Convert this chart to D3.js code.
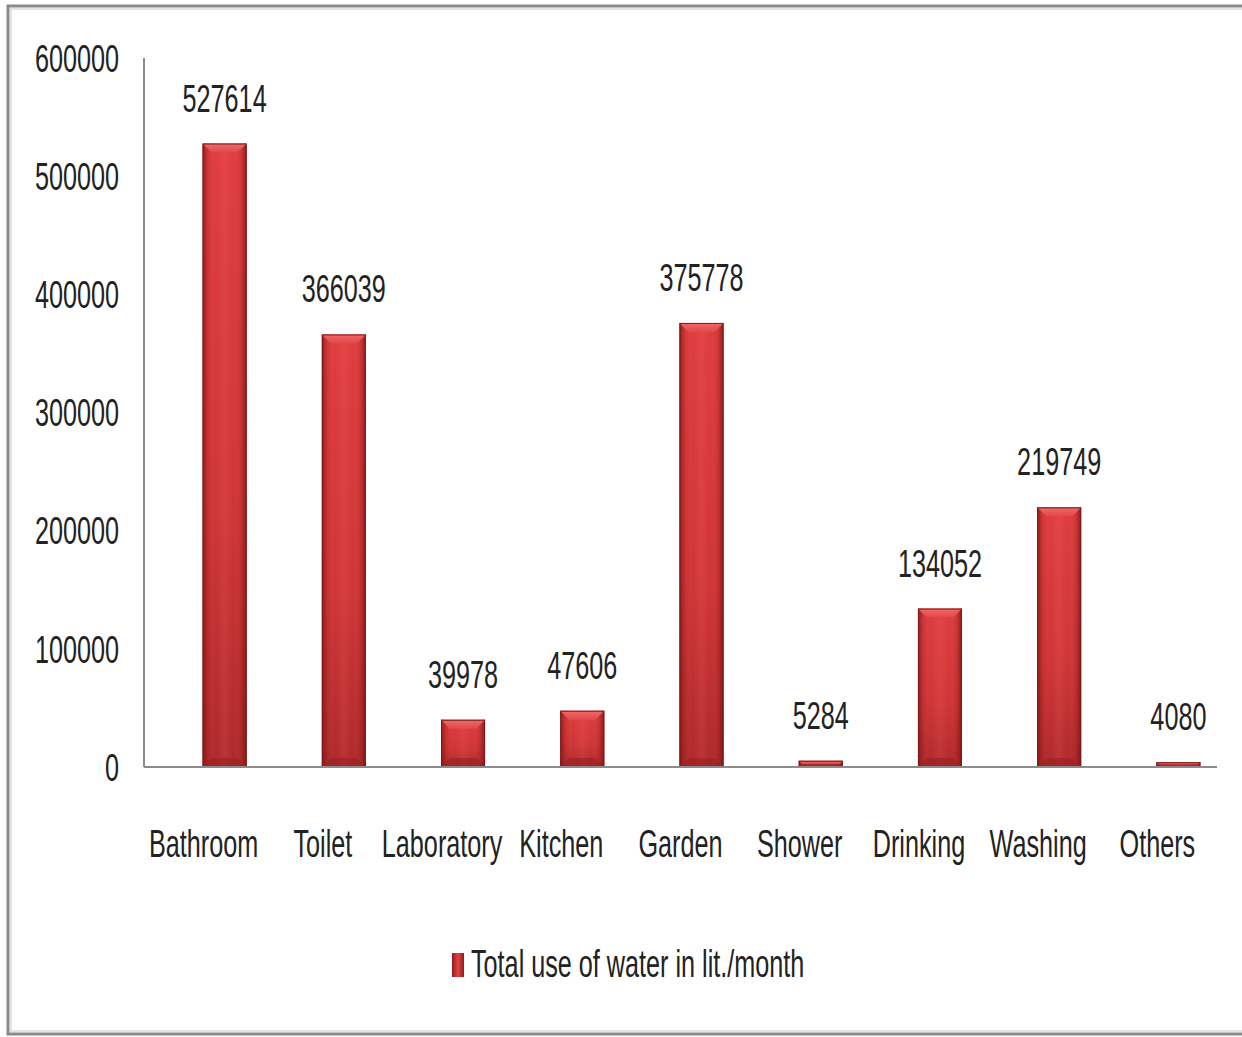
<!DOCTYPE html>
<html>
<head>
<meta charset="utf-8">
<script src="https://cdn.jsdelivr.net/npm/d3@7"></script>
<style>
  html, body { margin: 0; padding: 0; background: #ffffff; }
  svg { display: block; }
  text { font-family: "Liberation Sans", Arial, sans-serif; fill: #222222; }
</style>
</head>
<body>
<svg id="chart" width="1242" height="1037"></svg>
<script>
// Monthly water use by purpose (litres)
const categories = ["Bathroom", "Toilet", "Laboratory", "Kitchen", "Garden", "Shower", "Drinking", "Washing", "Others"];
const values = [527614, 366039, 39978, 47606, 375778, 5284, 134052, 219749, 4080];
const yTicks = [0, 100000, 200000, 300000, 400000, 500000, 600000];
const seriesName = "Total use of water in lit./month";

const svg = d3.select("#chart");
const W = 1242, H = 1037;
const plot = { left: 144, right: 1217, top: 58, bottom: 767 };
const sx = 0.84, sy = 1.27;   // labels are drawn tall and narrow
const fontSize = 30;
const squeeze = `scale(${sx},${sy})`;

// outer frame
svg.append("rect")
  .attr("x", 8).attr("y", 6).attr("width", W + 20).attr("height", 1028)
  .attr("fill", "none").attr("stroke", "#8a8a8a").attr("stroke-width", 3);
svg.append("rect")
  .attr("x", 11).attr("y", 9).attr("width", W + 20).attr("height", 1022)
  .attr("fill", "none").attr("stroke", "#e4e4e4").attr("stroke-width", 2);

const x = d3.scaleBand().domain(categories).range([plot.left, plot.right]).padding(0);
const y = d3.scaleLinear().domain([0, 600000]).range([plot.bottom, plot.top]);

// gradients for the bevelled bars
const defs = svg.append("defs");
const vg = defs.append("linearGradient").attr("id", "barV").attr("x1", 0).attr("y1", 0).attr("x2", 0).attr("y2", 1);
vg.append("stop").attr("offset", 0).attr("stop-color", "#df3d3e");
vg.append("stop").attr("offset", 0.6).attr("stop-color", "#cf3536");
vg.append("stop").attr("offset", 1).attr("stop-color", "#ae292b");
const hg = defs.append("linearGradient").attr("id", "barH").attr("x1", 0).attr("y1", 0).attr("x2", 1).attr("y2", 0);
[[0, "#6e1010", 0.7], [0.12, "#8a1a1a", 0.2], [0.3, "#ff8080", 0.0], [0.5, "#ff8a8a", 0.12], [0.7, "#ff8080", 0.0], [0.88, "#8a1a1a", 0.2], [1, "#6e1010", 0.75]]
  .forEach(([o, c, a]) => hg.append("stop").attr("offset", o).attr("stop-color", c).attr("stop-opacity", a));
const bevel = defs.append("linearGradient").attr("id", "bevel").attr("x1", 0).attr("y1", 0).attr("x2", 0).attr("y2", 1);
bevel.append("stop").attr("offset", 0).attr("stop-color", "#f26a6a");
bevel.append("stop").attr("offset", 1).attr("stop-color", "#e04848");

// y axis tick labels
svg.append("g").selectAll("text").data(yTicks).join("text")
  .attr("transform", d => `translate(119,${y(d)}) ${squeeze}`)
  .attr("text-anchor", "end")
  .attr("dy", "0.36em")
  .attr("font-size", fontSize)
  .text(d => d);

// y axis line
svg.append("line")
  .attr("x1", plot.left).attr("x2", plot.left).attr("y1", plot.top).attr("y2", plot.bottom)
  .attr("stroke", "#8c8c8c").attr("stroke-width", 2);

// bars, offset to the right of the category centre
const barW = 44, barShift = 21, bev = 9;
const bars = svg.append("g").selectAll("g").data(values).join("g")
  .attr("transform", (d, i) => `translate(${x(categories[i]) + x.bandwidth() / 2 + barShift - barW / 2},0)`);
bars.append("rect")
  .attr("x", 0).attr("width", barW)
  .attr("y", d => y(d)).attr("height", d => y(0) - y(d))
  .attr("fill", "url(#barV)");
bars.append("rect")
  .attr("x", 0).attr("width", barW)
  .attr("y", d => y(d)).attr("height", d => y(0) - y(d))
  .attr("fill", "url(#barH)");
bars.append("path")
  .attr("d", d => {
    const t = y(d), b = Math.min(bev, (y(0) - y(d)) / 2);
    return `M0,${t} L${barW},${t} L${barW - b},${t + b} L${b},${t + b} Z`;
  })
  .attr("fill", "url(#bevel)");
bars.append("path")
  .attr("d", d => {
    const b = Math.min(bev, (y(0) - y(d)) / 2), bt = y(0);
    return `M0,${bt} L${barW},${bt} L${barW - b},${bt - b} L${b},${bt - b} Z`;
  })
  .attr("fill", "#9c2224").attr("opacity", 0.7);
bars.append("rect")
  .attr("x", 0.5).attr("width", barW - 1)
  .attr("y", d => y(d) + 0.5).attr("height", d => Math.max(0, y(0) - y(d) - 1))
  .attr("fill", "none").attr("stroke", "#7a1a1c").attr("stroke-width", 1);

// value labels
bars.append("text")
  .attr("transform", d => `translate(${barW / 2},${y(d) - 32}) ${squeeze}`)
  .attr("text-anchor", "middle")
  .attr("font-size", fontSize)
  .text(d => d);

// x axis line
svg.append("line")
  .attr("x1", plot.left).attr("x2", plot.right).attr("y1", plot.bottom).attr("y2", plot.bottom)
  .attr("stroke", "#8c8c8c").attr("stroke-width", 2);

// category labels
svg.append("g").selectAll("text").data(categories).join("text")
  .attr("transform", d => `translate(${x(d) + x.bandwidth() / 2},857) ${squeeze}`)
  .attr("text-anchor", "middle")
  .attr("font-size", fontSize)
  .text(d => d);

// legend
const lgGrad = defs.append("linearGradient").attr("id", "lgH").attr("x1", 0).attr("y1", 0).attr("x2", 1).attr("y2", 0);
lgGrad.append("stop").attr("offset", 0).attr("stop-color", "#8f1c1c");
lgGrad.append("stop").attr("offset", 0.5).attr("stop-color", "#e04545");
lgGrad.append("stop").attr("offset", 1).attr("stop-color", "#8f1c1c");
const lg = svg.append("g").attr("transform", "translate(452,953)");
lg.append("rect").attr("width", 12).attr("height", 24).attr("fill", "url(#lgH)");
lg.append("text")
  .attr("transform", `translate(19,24) ${squeeze}`)
  .attr("font-size", fontSize)
  .text(seriesName);
</script>
</body>
</html>
